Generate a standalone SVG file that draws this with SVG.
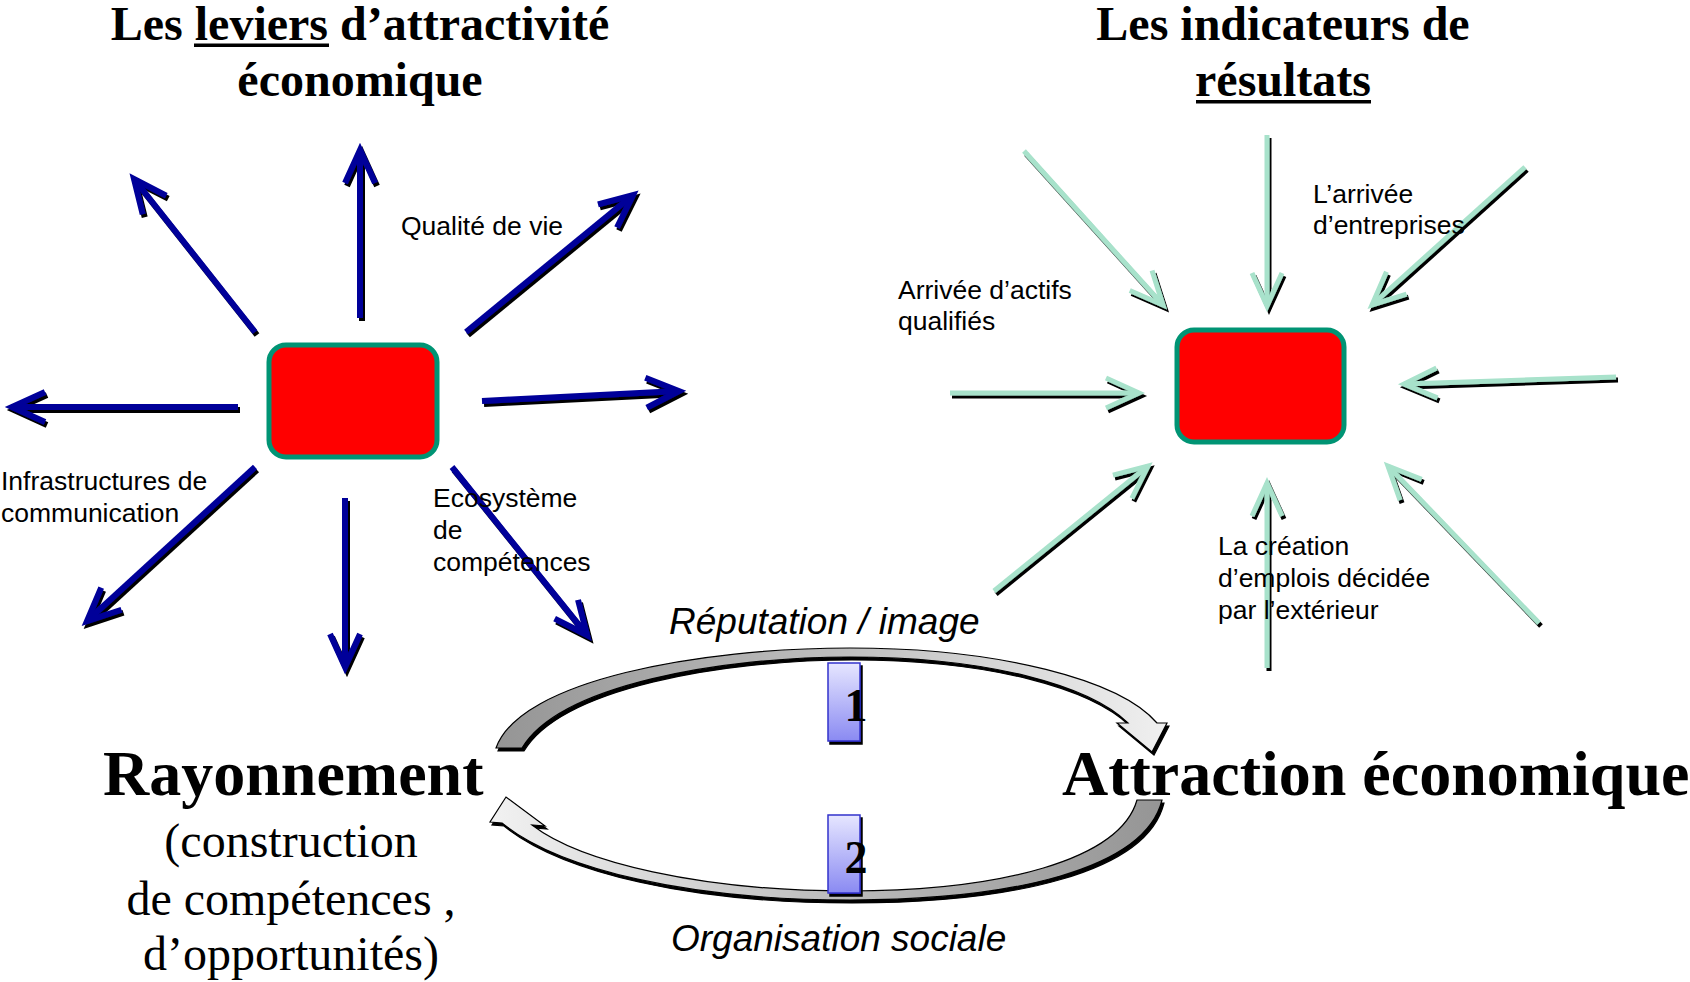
<svg xmlns="http://www.w3.org/2000/svg" width="1690" height="982" viewBox="0 0 1690 982">
<defs>
<style>
.title{font-family:"Liberation Serif","Times New Roman",serif;font-weight:bold;font-size:48px;fill:#000}
.lbl{font-family:"Liberation Sans",Arial,sans-serif;font-size:26.5px;fill:#000}
.it{font-family:"Liberation Sans",Arial,sans-serif;font-style:italic;font-size:37px;fill:#000}
.big{font-family:"Liberation Serif","Times New Roman",serif;font-weight:bold;font-size:64px;fill:#000}
.sub{font-family:"Liberation Serif","Times New Roman",serif;font-size:48px;fill:#000}
.num{font-family:"Liberation Serif","Times New Roman",serif;font-weight:bold;font-size:46px;fill:#000}
.blue{stroke:#000099;stroke-width:6;fill:none;marker-end:url(#mb)}
.green{stroke:#A8E2CB;stroke-width:5;fill:none;marker-end:url(#mg)}
.box{fill:#FF0000;stroke:#009474;stroke-width:5}
.nbox{fill:url(#gn);stroke:#3333CC;stroke-width:1.5}
.curve{stroke:#000;stroke-width:1.2}
</style>
<filter id="sh" filterUnits="userSpaceOnUse" x="0" y="0" width="1690" height="982">
<feOffset in="SourceAlpha" dx="2" dy="3" result="o"/>
<feMerge><feMergeNode in="o"/><feMergeNode in="SourceGraphic"/></feMerge>
</filter>
<marker id="mb" markerUnits="userSpaceOnUse" viewBox="-40 -20 44 40" refX="0" refY="0" markerWidth="44" markerHeight="40" orient="auto" overflow="visible">
<path d="M -33 -15 L 0 0 L -33 15" fill="none" stroke="#000099" stroke-width="6" stroke-linejoin="miter"/>
</marker>
<marker id="mg" markerUnits="userSpaceOnUse" viewBox="-40 -20 44 40" refX="0" refY="0" markerWidth="44" markerHeight="40" orient="auto" overflow="visible">
<path d="M -33 -15 L 0 0 L -33 15" fill="none" stroke="#A8E2CB" stroke-width="5" stroke-linejoin="miter"/>
</marker>
<linearGradient id="gn" x1="0" y1="0" x2="0" y2="1">
<stop offset="0" stop-color="#E6E6FF"/>
<stop offset="1" stop-color="#8A8AF2"/>
</linearGradient>
<linearGradient id="gt" gradientUnits="userSpaceOnUse" x1="496" y1="0" x2="1167" y2="0">
<stop offset="0" stop-color="#959595"/>
<stop offset="0.5" stop-color="#bdbdbd"/>
<stop offset="1" stop-color="#f0f0f0"/>
</linearGradient>
<linearGradient id="gb" gradientUnits="userSpaceOnUse" x1="1162" y1="0" x2="490" y2="0">
<stop offset="0" stop-color="#959595"/>
<stop offset="0.5" stop-color="#bdbdbd"/>
<stop offset="1" stop-color="#f2f2f2"/>
</linearGradient>
</defs>
<rect width="1690" height="982" fill="#fff"/>

<g id="titles">
<text class="title" x="360" y="40" text-anchor="middle">Les leviers d’attractivité</text>
<rect x="194" y="43.5" width="135" height="3.5" fill="#000"/>
<text class="title" x="360" y="96" text-anchor="middle">économique</text>
<text class="title" x="1283" y="40" text-anchor="middle">Les indicateurs de</text>
<text class="title" x="1283" y="96" text-anchor="middle">résultats</text>
<rect x="1196" y="100" width="175" height="3.5" fill="#000"/>
</g>

<g id="connectors">
<g id="levers" filter="url(#sh)">
<path class="blue" d="M360 318 L360 150"/>
<path class="blue" d="M255 332 L134 179"/>
<path class="blue" d="M466 332 L633 195"/>
<path class="blue" d="M482 401 L679 391"/>
<path class="blue" d="M238 407 L12 407"/>
<path class="blue" d="M255 467 L87 621"/>
<path class="blue" d="M345 498 L345 667"/>
<path class="blue" d="M452 467 L587 635"/>
</g>
<g id="indicators" filter="url(#sh)">
<path class="green" d="M1024 151 L1163 305"/>
<path class="green" d="M1267 135 L1267 306"/>
<path class="green" d="M1525 167 L1372 305"/>
<path class="green" d="M950 393 L1139 393"/>
<path class="green" d="M1616 377 L1404 384"/>
<path class="green" d="M994 591 L1148 466"/>
<path class="green" d="M1267 668 L1267 483"/>
<path class="green" d="M1539 623 L1388 466"/>
</g>
<g id="loop" filter="url(#sh)">
<path class="curve" fill="url(#gt)" d="M496 748 C520 680 700 648 850 648 C1000 648 1120 680 1157 723 L1167 723 L1152 752 L1117 723 L1128 723 C1090 686 990 657 850 657 C720 657 560 685 522 748 Z"/>
<path class="curve" fill="url(#gb)" d="M1162 800 C1145 870 1010 900 850 900 C690 900 560 870 502 823 L490 822 L506 797 L545 826 L532 825 C580 862 700 891 850 891 C1000 891 1120 860 1137 800 Z"/>
</g>
</g>

<g id="node-levers">
<rect class="box" x="269" y="345" width="168" height="112" rx="17"/>
</g>
<g id="node-results">
<rect class="box" x="1177" y="330" width="167" height="112" rx="17"/>
</g>

<g id="labels-left">
<text class="lbl" x="401" y="235">Qualité de vie</text>
<text class="lbl" x="1" y="490">Infrastructures de</text>
<text class="lbl" x="1" y="522">communication</text>
<text class="lbl" x="433" y="507">Ecosystème</text>
<text class="lbl" x="433" y="539">de</text>
<text class="lbl" x="433" y="571">compétences</text>
</g>
<g id="labels-right">
<text class="lbl" x="898" y="299">Arrivée d’actifs</text>
<text class="lbl" x="898" y="330">qualifiés</text>
<text class="lbl" x="1313" y="203">L’arrivée</text>
<text class="lbl" x="1313" y="234">d’entreprises</text>
<text class="lbl" x="1218" y="555">La création</text>
<text class="lbl" x="1218" y="587">d’emplois décidée</text>
<text class="lbl" x="1218" y="619">par l’extérieur</text>
</g>

<g id="node-rayonnement">
<text class="big" x="103" y="795">Rayonnement</text>
<text class="sub" x="291" y="857" text-anchor="middle">(construction</text>
<text class="sub" x="291" y="915" text-anchor="middle">de compétences ,</text>
<text class="sub" x="291" y="970" text-anchor="middle">d’opportunités)</text>
</g>
<g id="node-attraction">
<text class="big" x="1062" y="795">Attraction économique</text>
</g>

<g id="loop-labels">
<text class="it" x="669" y="634">Réputation / image</text>
<text class="it" x="671" y="951">Organisation sociale</text>
</g>

<g id="node-1" filter="url(#sh)">
<rect class="nbox" x="828" y="663" width="32" height="78"/>
</g>
<text class="num" x="856" y="721" text-anchor="middle">1</text>
<g id="node-2" filter="url(#sh)">
<rect class="nbox" x="828" y="815" width="32" height="78"/>
</g>
<text class="num" x="856" y="873" text-anchor="middle">2</text>
</svg>
